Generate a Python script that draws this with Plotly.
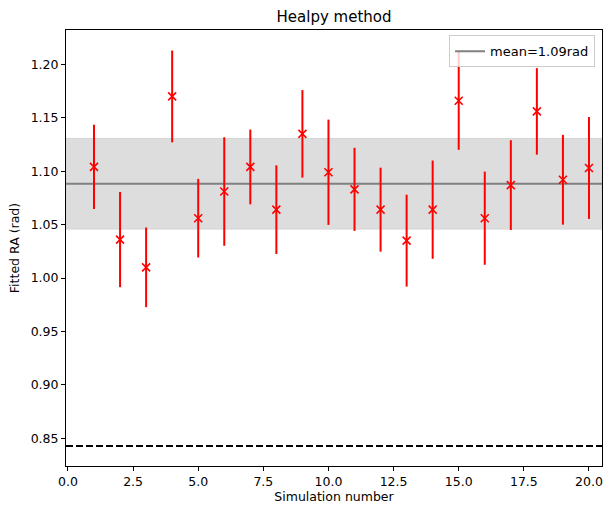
import numpy as np
import plotly.graph_objects as go

sim = list(range(1, 21))
ra = [1.104, 1.036, 1.010, 1.170, 1.056, 1.081, 1.104, 1.064, 1.135, 1.099,
      1.083, 1.064, 1.035, 1.064, 1.166, 1.056, 1.087, 1.156, 1.092, 1.103]
err = [0.0395, 0.0446, 0.0373, 0.043, 0.0368, 0.0508, 0.035, 0.0415, 0.041, 0.0493,
       0.0389, 0.0393, 0.043, 0.046, 0.046, 0.0436, 0.042, 0.0405, 0.042, 0.0477]
true_ra = 0.8428
mean_ra = float(np.mean(ra))
std_ra = float(np.std(ra))

xticks = [0.0, 2.5, 5.0, 7.5, 10.0, 12.5, 15.0, 17.5, 20.0]
yticks = [0.85, 0.90, 0.95, 1.00, 1.05, 1.10, 1.15, 1.20]

FONT = "DejaVu Sans"

fig = go.Figure()

fig.add_hrect(y0=mean_ra - std_ra, y1=mean_ra + std_ra,
              fillcolor="#dddddd", line=dict(color="#d4d4d4", width=1),
              layer="below")
fig.add_hline(y=mean_ra, line=dict(color="#808080", width=2), layer="below",
              showlegend=True, name=f"mean={mean_ra:.2f}rad")
fig.add_hline(y=true_ra, line=dict(color="black", width=2, dash="7px,3px"),
              layer="below")

fig.add_trace(go.Scatter(
    x=sim, y=ra, mode="markers", showlegend=False,
    marker=dict(symbol="x-thin", size=8, color="red",
                line=dict(color="red", width=1.6)),
    error_y=dict(type="data", array=err, visible=True, color="red",
                 thickness=2, width=0),
))

fig.update_layout(
    width=605, height=506,
    margin=dict(l=66, r=3, t=30, b=40),
    plot_bgcolor="white", paper_bgcolor="white",
    font=dict(family=FONT, size=12.5, color="black"),
    title=dict(text="Healpy method", x=0.5, xref="paper", xanchor="center",
               y=1 - 17 / 506, yref="container", yanchor="middle",
               font=dict(family=FONT, size=15, color="black")),
    showlegend=True,
    legend=dict(x=0.987, y=0.988, xanchor="right", yanchor="top",
                bgcolor="rgba(255,255,255,0.8)", bordercolor="#cccccc",
                borderwidth=1, font=dict(family=FONT, size=13)),
    xaxis=dict(range=[-0.075, 20.5], tickvals=xticks,
               ticktext=[f"{v:.1f}" for v in xticks],
               showgrid=False, zeroline=False, showline=True, mirror=True,
               linecolor="black", linewidth=1, ticks="outside", ticklen=4,
               tickcolor="black", tickfont=dict(size=12.5),
               title=dict(text="Simulation number", standoff=4,
                          font=dict(family=FONT, size=12.5))),
    yaxis=dict(range=[0.824, 1.2322], tickvals=yticks,
               ticktext=[f"{v:.2f}" for v in yticks],
               showgrid=False, zeroline=False, showline=True, mirror=True,
               linecolor="black", linewidth=1, ticks="outside", ticklen=4,
               tickcolor="black", tickfont=dict(size=12.5),
               title=dict(text="Fitted RA (rad)", standoff=8,
                          font=dict(family=FONT, size=12.5))),
)

fig.write_html("out.html")
